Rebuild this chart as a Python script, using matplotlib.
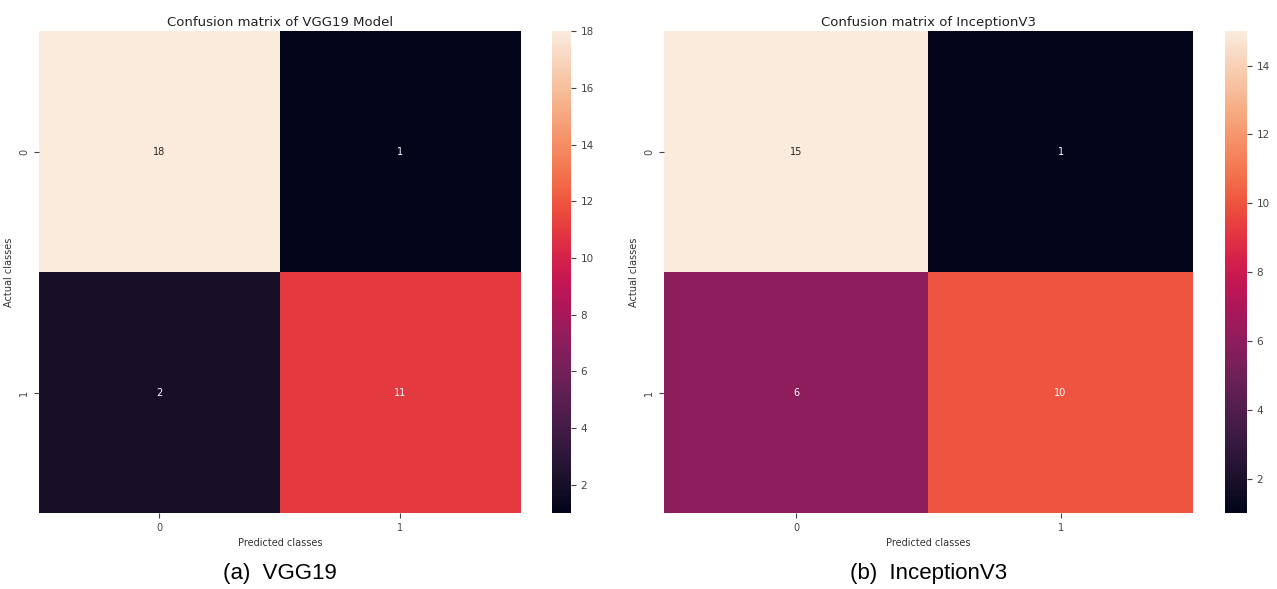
import numpy as np
import matplotlib
matplotlib.use("Agg")
import matplotlib.pyplot as plt
import seaborn as sns

# confusion matrices
vgg19_cm = np.array([[18, 1],
                     [2, 11]])
inception_cm = np.array([[15, 1],
                         [6, 10]])
class_labels = ["0", "1"]

titles = ["Confusion matrix of VGG19 Model", "Confusion matrix of InceptionV3"]
captions = ["(a)  VGG19", "(b)  InceptionV3"]

fig = plt.figure(figsize=(12.77, 5.89), dpi=100)

# axes placement [left, bottom, width, height] in figure fractions
ax_pos = [[0.0305, 0.129, 0.3775, 0.818], [0.520, 0.129, 0.414, 0.818]]
cb_pos = [[0.4325, 0.129, 0.0145, 0.818], [0.9595, 0.129, 0.0170, 0.818]]

for cm, title, cap, ap, cp in zip([vgg19_cm, inception_cm], titles, captions, ax_pos, cb_pos):
    ax = fig.add_axes(ap)
    cax = fig.add_axes(cp)
    sns.heatmap(cm, annot=True, fmt="d", cmap="rocket", ax=ax, cbar_ax=cax,
                xticklabels=class_labels, yticklabels=class_labels,
                annot_kws={"fontsize": 7})
    ax.set_title(title, fontsize=9.5, pad=4, color="#222222")
    ax.set_xlabel("Predicted classes", fontsize=7, color="#333333")
    ax.set_ylabel("Actual classes", fontsize=7, color="#333333")
    ax.tick_params(labelsize=7, colors="#444444")
    ax.tick_params(axis="y", rotation=90)
    cax.tick_params(labelsize=7.5, colors="#444444")
    # caption below each panel
    x_mid = ap[0] + ap[2] / 2
    fig.text(x_mid, 0.008, cap, ha="center", va="bottom", fontsize=16,
             family=["Liberation Sans", "DejaVu Sans"])

fig.savefig("out.png", dpi=100)
